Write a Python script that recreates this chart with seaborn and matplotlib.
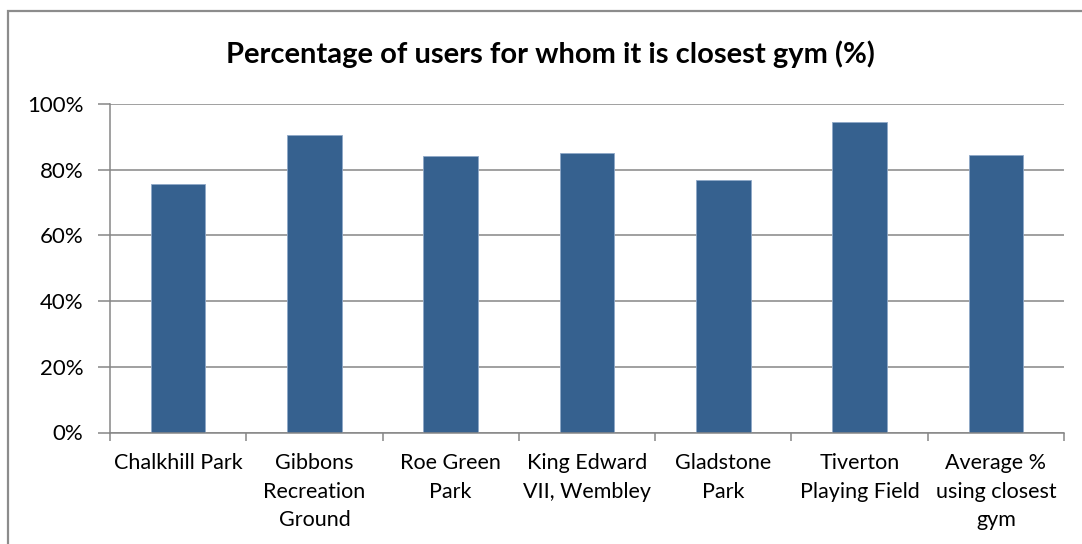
import matplotlib
matplotlib.use("Agg")
import matplotlib.pyplot as plt
from matplotlib.patches import Rectangle
from matplotlib.ticker import FixedLocator, PercentFormatter
import seaborn as sns
import pandas as pd

# Share of users for whom each outdoor gym is the nearest one
sites = [
    "Chalkhill Park",
    "Gibbons\nRecreation\nGround",
    "Roe Green\nPark",
    "King Edward\nVII, Wembley",
    "Gladstone\nPark",
    "Tiverton\nPlaying Field",
    "Average %\nusing closest\ngym",
]
closest_pct = [75.6, 90.5, 84.3, 85.1, 76.9, 94.4, 84.4]
y_ticks = [0, 20, 40, 60, 80, 100]

title = "Percentage of users for whom it is closest gym (%)"

sns.set_theme(style="white")
plt.rcParams["font.family"] = ["Lato", "DejaVu Sans"]

W, H = 1082, 544
fig = plt.figure(figsize=(W / 100, H / 100), dpi=100)
fig.patch.set_facecolor("white")

left, right, top, bottom = 110, 1064, 104, 432.5
ax = fig.add_axes([left / W, (H - bottom) / H, (right - left) / W, (bottom - top) / H])

df = pd.DataFrame({"site": sites, "pct": closest_pct})
sns.barplot(data=df, x="site", y="pct", ax=ax, color="#36618F",
            width=0.4, saturation=1, edgecolor="#8FA8C8", linewidth=0.6)

grid_col = "#868686"
ax.set_ylim(0, 100)
ax.set_xlim(-0.5, len(sites) - 0.5)
ax.set_yticks(y_ticks)
ax.yaxis.set_major_formatter(PercentFormatter(decimals=0))
ax.yaxis.grid(True, color=grid_col, linewidth=1.1)
ax.set_axisbelow(True)

# Category labels sit between boundary tick marks
ax.xaxis.set_minor_locator(FixedLocator([i - 0.5 for i in range(len(sites) + 1)]))
ax.tick_params(axis="x", which="major", length=0, pad=15, labelsize=15.5, labelcolor="#000000")
ax.tick_params(axis="x", which="minor", length=6, width=1.1, color=grid_col, direction="out", bottom=True)
ax.tick_params(axis="y", which="major", length=9, width=1.1, color=grid_col, direction="out",
               left=True, pad=10, labelsize=16, labelcolor="#000000")

ax.set_xlabel("")
ax.set_ylabel("")
for lbl in ax.get_xticklabels():
    lbl.set_linespacing(1.52)
    lbl.set_horizontalalignment("center")
    lbl.set_verticalalignment("top")

for side in ("top", "right"):
    ax.spines[side].set_visible(False)
for side in ("left", "bottom"):
    ax.spines[side].set_color(grid_col)
    ax.spines[side].set_linewidth(1.1)

fig.text(550 / W, 1 - 54 / H, title, ha="center", va="center",
         fontsize=21, fontweight="bold", color="#000000")

# Chart-area frame
fig.patches.append(Rectangle((8 / W, -0.05), 1.1, (H - 11) / H + 0.05,
                             transform=fig.transFigure, fill=False,
                             edgecolor="#8C8C8C", linewidth=1.6))

fig.savefig("out.png", dpi=100, facecolor="white")
